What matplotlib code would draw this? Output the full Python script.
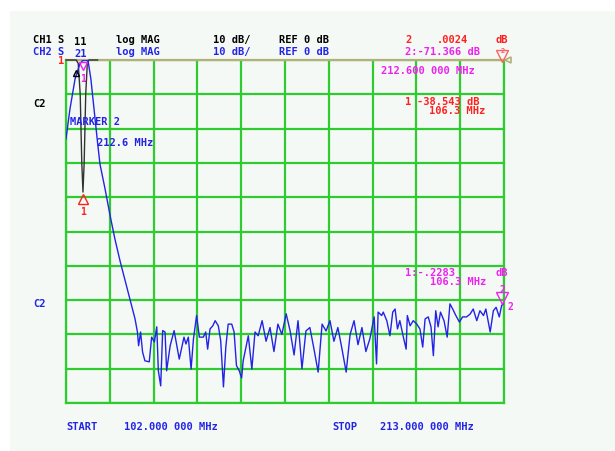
import numpy as np
from matplotlib import pyplot as plt
from matplotlib import transforms

W, H = 615, 452

# CH2 (S21) trace, MHz / dB
ch2_freq = [102.0, 103.0, 104.3, 105.5, 106.1, 106.8, 107.6, 108.3, 109.1, 109.9,
            110.6, 111.9, 113.2, 114.4, 115.7, 117.0, 118.2, 119.5, 120.1, 120.4,
            120.9, 121.4, 122.0, 123.1, 123.7, 124.4, 125.0, 125.4, 126.0, 126.5,
            127.1, 127.5, 128.4, 129.4, 130.7, 131.9, 132.4, 133.0, 133.7, 134.3,
            135.1, 135.8, 136.8, 137.4, 137.9, 138.5, 139.2, 139.8, 140.6, 141.2,
            141.9, 142.5, 143.1, 144.0, 144.6, 145.2, 145.9, 146.5, 146.9, 148.2,
            149.1, 149.9, 150.7, 151.7, 152.7, 153.7, 154.7, 155.7, 156.7, 157.8,
            158.8, 159.8, 160.8, 161.8, 162.8, 163.8, 164.8, 165.9, 166.9, 167.9,
            168.9, 169.9, 170.9, 171.9, 173.0, 174.0, 175.0, 176.0, 177.0, 178.0,
            179.0, 180.1, 180.7, 181.1, 182.0, 182.4, 183.3, 184.1, 184.8, 185.4,
            186.0, 186.6, 187.5, 188.2, 188.5, 189.2, 190.0, 190.9, 191.7, 192.4,
            193.0, 193.8, 194.5, 195.1, 195.7, 196.3, 196.9, 197.8, 198.6, 199.3,
            200.0, 200.8, 201.7, 202.5, 203.5, 204.4, 205.2, 206.1, 206.9, 207.8,
            208.4, 209.5, 210.3, 211.0, 211.8, 212.4, 212.8, 213.0]
ch2_db = [-23.0, -14.3, -5.5, -1.2, -0.3, 0.0, -0.3, -5.5, -14.3, -23.0,
          -30.3, -37.6, -45.5, -52.2, -58.6, -64.4, -69.7, -75.5, -79.3, -83.3,
          -79.3, -85.1, -87.7, -88.0, -80.8, -82.2, -77.8, -90.6, -95.0, -78.9,
          -79.3, -90.6, -83.3, -78.9, -87.2, -80.8, -82.8, -80.8, -90.1, -81.3,
          -74.5, -80.8, -80.8, -79.3, -84.3, -78.4, -77.5, -76.0, -77.5, -81.8,
          -95.3, -83.7, -77.0, -77.0, -79.3, -89.1, -90.6, -92.7, -87.7, -80.4,
          -90.1, -79.3, -80.4, -76.0, -82.0, -78.0, -85.0, -77.0, -80.0, -74.0,
          -79.0, -86.0, -76.0, -90.0, -79.0, -78.0, -84.0, -91.0, -77.0, -79.0,
          -76.0, -82.0, -78.0, -84.0, -91.0, -80.0, -76.0, -83.0, -78.0, -85.0,
          -81.3, -74.9, -88.6, -73.5, -74.5, -73.5, -76.0, -80.4, -73.5, -72.6,
          -78.4, -76.0, -80.8, -84.3, -74.5, -77.5, -76.0, -77.0, -78.4, -83.7,
          -75.5, -74.9, -77.8, -86.2, -73.1, -77.8, -73.5, -76.0, -80.8, -71.1,
          -72.6, -74.5, -76.4, -74.9, -74.9, -74.1, -72.6, -76.0, -73.1, -74.5,
          -72.6, -79.3, -73.1, -72.1, -74.9, -71.6, -71.1, -71.0]

# CH1 (S11) trace, MHz / dB
ch1_freq = [102.0, 104.6, 105.1, 105.6, 106.0, 106.3, 106.6, 107.0, 107.4, 107.8, 110.0, 213.0]
ch1_db = [0.0, 0.0, -1.0, -10.0, -30.0, -38.5, -30.0, -10.0, -1.0, 0.0, 0.0, 0.0]

F_START, F_STOP = 102.0, 213.0

BLUE = "#2323e6"
RED = "#ff2020"
MAG = "#ee22ee"
GREEN = "#2ecc2e"
OLIVE = "#b3b07a"
BG = "#f4f9f6"

plt.rcParams["font.family"] = "DejaVu Sans Mono"
plt.rcParams["font.weight"] = "bold"

fig = plt.figure(figsize=(W / 100, H / 100), dpi=100)
fig.patch.set_facecolor("white")
fig.patches.append(plt.Rectangle((10 / W, 0), 1 - 10 / W, 1 - 12 / H,
                                 transform=fig.transFigure, facecolor=BG,
                                 edgecolor="none", zorder=-10))

ax = fig.add_axes([66 / W, 1 - 404 / H, 438 / W, 343 / H])
ax.set_facecolor(BG)
ax.set_xlim(F_START, F_STOP)
ax.set_ylim(-100, 0)
ax.set_xticks(np.linspace(F_START, F_STOP, 11))
ax.set_yticks(np.linspace(-100, 0, 11))
ax.tick_params(length=0, labelbottom=False, labelleft=False)
ax.grid(True, color=GREEN, lw=1.6)
for s in ["left", "right", "bottom"]:
    ax.spines[s].set_color(GREEN)
    ax.spines[s].set_linewidth(1.6)
ax.spines["top"].set_color(OLIVE)
ax.spines["top"].set_linewidth(1.6)

# traces
f1 = np.array(ch1_freq)
d1 = np.array(ch1_db)
near = f1 <= 110
ax.plot(f1[near], d1[near], color="#333333", lw=1.0, zorder=4, clip_on=False)
ax.plot(ch2_freq, ch2_db, color=BLUE, lw=1.0, zorder=5)


def offset(dy):
    return transforms.offset_copy(ax.transData, fig, x=0, y=dy, units="points")


# markers
ax.plot(106.3, -38.543, marker="^", ms=7, mfc="none", mec=RED, mew=1,
        transform=offset(-5), clip_on=False, zorder=6)
ax.text(106.3, -38.543, "1", color=RED, fontsize=7, ha="center", va="top",
        transform=offset(-10))
ax.plot(212.6, 0.0024, marker="v", ms=8, mfc="none", mec="#ff6060", mew=1,
        transform=offset(3), clip_on=False, zorder=6)
ax.text(212.6, 0.0024, "2", color="#ff6060", fontsize=5, ha="center", va="center",
        transform=offset(7.5), clip_on=False)
ax.plot(106.3, -0.2283, marker="v", ms=6, mfc="none", mec=MAG, mew=1,
        transform=offset(-4), clip_on=False, zorder=6)
ax.text(106.3, -0.2283, "1", color=MAG, fontsize=7, ha="center", va="top",
        transform=offset(-9))
ax.plot(104.6, -2.5, marker="^", ms=5, mfc="none", mec="black", mew=1,
        transform=offset(-3), clip_on=False, zorder=6)
ax.plot(212.6, -71.366, marker="v", ms=8, mfc="none", mec=MAG, mew=1,
        transform=offset(5), clip_on=False, zorder=6)
ax.text(212.6, -71.366, "2", color=MAG, fontsize=7, ha="center", va="bottom",
        transform=offset(8))
ax.text(213.9, -71.366, "2", color=MAG, fontsize=7, ha="left", va="center",
        transform=offset(-1), clip_on=False)
ax.plot([1.008], [1.0], marker="<", ms=5, mfc="none", mec=OLIVE, mew=1.2,
        transform=ax.transAxes, clip_on=False)


def label(x, y, s, color="black"):
    fig.text(x / W, 1 - y / H, s, color=color, fontsize=7.5, va="center", ha="left")


label(58, 61, "1", RED)

label(33, 40, "CH1 S")
label(74, 42, "11")
label(116, 40, "log MAG")
label(213, 40, "10 dB/")
label(279, 40, "REF 0 dB")
label(405, 40, "2", RED)
label(437, 40, ".0024", RED)
label(496, 40, "dB", RED)

label(33, 52, "CH2 S", BLUE)
label(74, 54, "21", BLUE)
label(116, 52, "log MAG", BLUE)
label(213, 52, "10 dB/", BLUE)
label(279, 52, "REF 0 dB", BLUE)
label(405, 52, "2:-71.366 dB", MAG)

label(381, 71, "212.600 000 MHz", MAG)
label(405, 102, "1", RED)
label(417, 102, "-38.543 dB", RED)
label(429, 111, "106.3 MHz", RED)

label(33, 104, "C2")
label(70, 122, "MARKER 2", BLUE)
label(97, 143, "212.6 MHz", BLUE)

label(405, 273, "1:-.2283", MAG)
label(496, 273, "dB", MAG)
label(430, 282, "106.3 MHz", MAG)
label(33, 304, "C2", BLUE)

label(66, 427, "START", BLUE)
label(124, 427, "102.000 000 MHz", BLUE)
label(332, 427, "STOP", BLUE)
label(380, 427, "213.000 000 MHz", BLUE)

fig.savefig("out.png", dpi=100, facecolor=fig.get_facecolor())
